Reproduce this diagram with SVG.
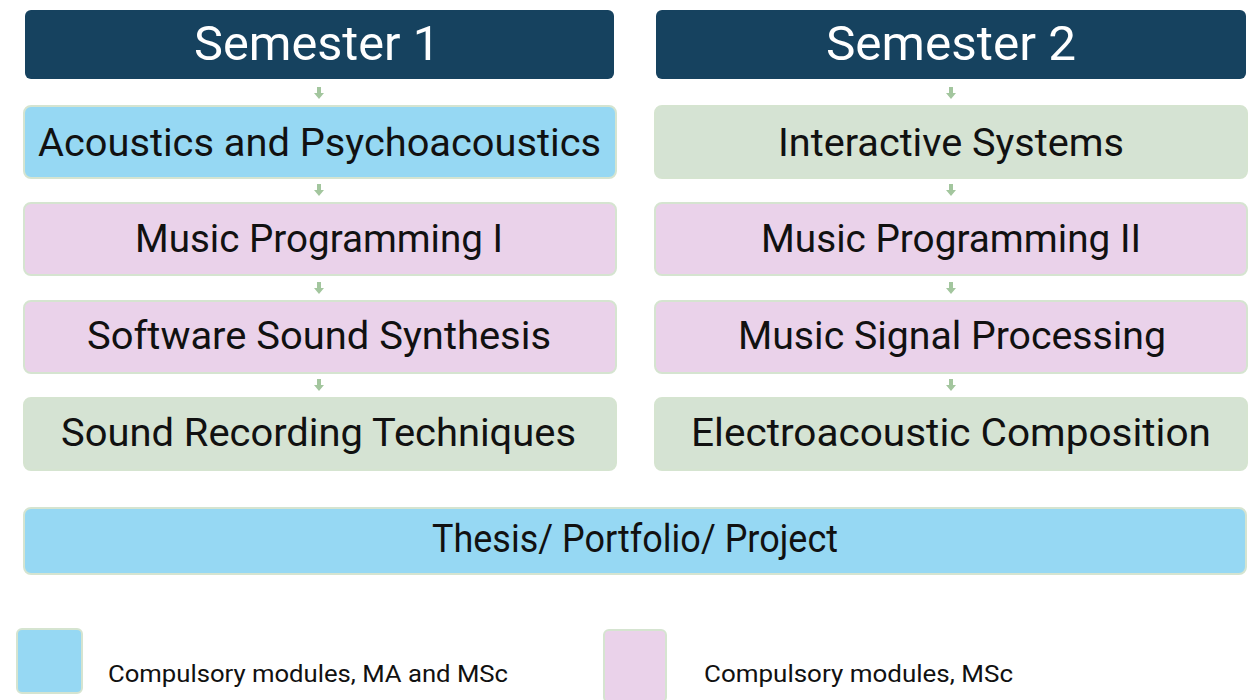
<svg xmlns="http://www.w3.org/2000/svg" width="1257" height="700" viewBox="0 0 1257 700">
<defs>
<style>
.hdr{fill:#16425f}
.blue{fill:#96d8f3;stroke:#d5e4d0;stroke-width:2}
.pink{fill:#ead2ea;stroke:#d5e4d0;stroke-width:2}
.green{fill:#d5e3d3;stroke:#d5e4d0;stroke-width:2}
.ht{font-family:Roboto,"Liberation Sans",sans-serif;font-size:49px;fill:#ffffff;text-anchor:middle}
.mt{font-family:Roboto,"Liberation Sans",sans-serif;font-size:38px;fill:#111111;text-anchor:middle}
.lt{font-family:Roboto,"Liberation Sans",sans-serif;font-size:23px;fill:#111111}
.arr{fill:#a3c69e}
</style>
</defs>
<rect width="1257" height="700" fill="#ffffff"/>
<g id="connectors">
<path class="arr" d="M317,87 h4 v6 h3 l-5,6 l-5,-6 h3 z"/>
<path class="arr" d="M317,184 h4 v6 h3 l-5,6 l-5,-6 h3 z"/>
<path class="arr" d="M317,282 h4 v6 h3 l-5,6 l-5,-6 h3 z"/>
<path class="arr" d="M317,379 h4 v6 h3 l-5,6 l-5,-6 h3 z"/>
<path class="arr" d="M949,87 h4 v6 h3 l-5,6 l-5,-6 h3 z"/>
<path class="arr" d="M949,184 h4 v6 h3 l-5,6 l-5,-6 h3 z"/>
<path class="arr" d="M949,282 h4 v6 h3 l-5,6 l-5,-6 h3 z"/>
<path class="arr" d="M949,379 h4 v6 h3 l-5,6 l-5,-6 h3 z"/>
</g>
<g id="sem1">
<rect class="hdr" x="25" y="10" width="589" height="69" rx="6"/>
<text class="ht" x="317" y="60" textLength="246" lengthAdjust="spacingAndGlyphs">Semester 1</text>
</g>
<g id="sem2">
<rect class="hdr" x="656" y="10" width="590" height="69" rx="6"/>
<text class="ht" x="951" y="60" textLength="250" lengthAdjust="spacingAndGlyphs">Semester 2</text>
</g>
<g id="acoustics">
<rect class="blue" x="24" y="106" width="592" height="72" rx="7"/>
<text class="mt" x="319.5" y="156" textLength="563" lengthAdjust="spacingAndGlyphs">Acoustics and Psychoacoustics</text>
</g>
<g id="mp1">
<rect class="pink" x="24" y="203" width="592" height="72" rx="7"/>
<text class="mt" x="319" y="252" textLength="368" lengthAdjust="spacingAndGlyphs">Music Programming I</text>
</g>
<g id="sss">
<rect class="pink" x="24" y="301" width="592" height="72" rx="7"/>
<text class="mt" x="319" y="349" textLength="464" lengthAdjust="spacingAndGlyphs">Software Sound Synthesis</text>
</g>
<g id="srt">
<rect class="green" x="24" y="398" width="592" height="72" rx="7"/>
<text class="mt" x="318.5" y="446" textLength="515" lengthAdjust="spacingAndGlyphs">Sound Recording Techniques</text>
</g>
<g id="interactive">
<rect class="green" x="655" y="106" width="592" height="72" rx="7"/>
<text class="mt" x="951" y="156" textLength="346" lengthAdjust="spacingAndGlyphs">Interactive Systems</text>
</g>
<g id="mp2">
<rect class="pink" x="655" y="203" width="592" height="72" rx="7"/>
<text class="mt" x="951" y="252" textLength="380" lengthAdjust="spacingAndGlyphs">Music Programming II</text>
</g>
<g id="msp">
<rect class="pink" x="655" y="301" width="592" height="72" rx="7"/>
<text class="mt" x="952" y="349" textLength="428" lengthAdjust="spacingAndGlyphs">Music Signal Processing</text>
</g>
<g id="eac">
<rect class="green" x="655" y="398" width="592" height="72" rx="7"/>
<text class="mt" x="951" y="446" textLength="520" lengthAdjust="spacingAndGlyphs">Electroacoustic Composition</text>
</g>
<g id="thesis">
<rect class="blue" x="24" y="508" width="1222" height="66" rx="7"/>
<text class="mt" x="635" y="552" textLength="406" lengthAdjust="spacingAndGlyphs">Thesis/ Portfolio/ Project</text>
</g>
<g id="legend1">
<rect class="blue" x="17" y="629" width="65" height="64" rx="5"/>
<text class="lt" x="108" y="682" textLength="400" lengthAdjust="spacingAndGlyphs">Compulsory modules, MA and MSc</text>
</g>
<g id="legend2">
<rect class="pink" x="604" y="630" width="62" height="72" rx="5"/>
<text class="lt" x="704" y="682" textLength="309" lengthAdjust="spacingAndGlyphs">Compulsory modules, MSc</text>
</g>
</svg>
